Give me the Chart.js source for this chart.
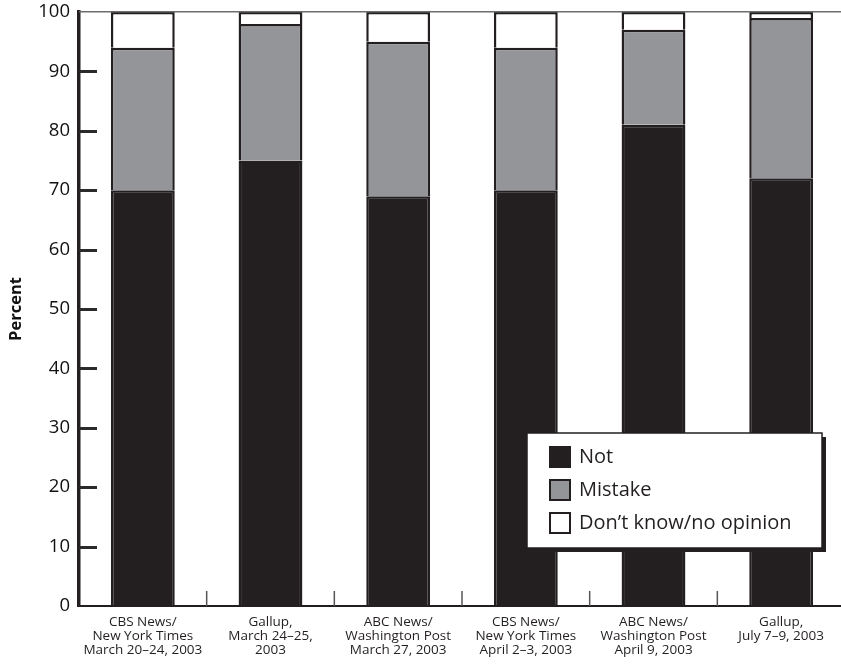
<!DOCTYPE html>
<html><head><meta charset="utf-8">
<script src="https://cdn.jsdelivr.net/npm/chart.js@4"></script>
<style>html,body{margin:0;padding:0;overflow:hidden;background:#fff}#wrap{width:845px;height:666px}</style>
</head><body><div id="wrap"><canvas id="c" width="845" height="666"></canvas></div>
<script>
const categories = [
  ["CBS News/", "New York Times", "March 20–24, 2003"],
  ["Gallup,", "March 24–25,", "2003"],
  ["ABC News/", "Washington Post", "March 27, 2003"],
  ["CBS News/", "New York Times", "April 2–3, 2003"],
  ["ABC News/", "Washington Post", "April 9, 2003"],
  ["Gallup,", "July 7–9, 2003"]
];
const notValues = [70, 75, 69, 70, 81, 72];
const mistakeValues = [24, 23, 26, 24, 16, 27];
const dontKnowValues = [6, 2, 5, 6, 3, 1];
const seriesNames = ["Not", "Mistake", "Don’t know/no opinion"];
const yTickValues = [0, 10, 20, 30, 40, 50, 60, 70, 80, 90, 100];
const axisTitle = "Percent";

const DARK = "#231f20", GRAY = "#939598";
const FONT = "'Open Sans', 'Noto Sans', sans-serif";

const decorPlugin = {
  id: "decor",
  afterDraw(chart) {
    const ctx = chart.ctx, ca = chart.chartArea;
    const ys = chart.scales.y, xs = chart.scales.x;
    ctx.save();
    const pTop = ys.getPixelForValue(100);
    ctx.fillStyle = "#6d6d6d";
    ctx.fillRect(ca.left, pTop - 1, chart.width - ca.left, 1.5);
    // inward y ticks
    ctx.fillStyle = "#2a2a2a";
    for (let k = 1; k < yTickValues.length - 1; k++) {
      const py = Math.round(ys.getPixelForValue(yTickValues[k]));
      ctx.fillRect(ca.left, py - 1, 18, 3);
    }
    // x ticks between categories
    ctx.fillStyle = "#555555";
    for (let i = 0; i < categories.length - 1; i++) {
      const px = (xs.getPixelForValue(i) + xs.getPixelForValue(i + 1)) / 2;
      ctx.fillRect(px - 0.75, ca.bottom - 15, 1.5, 15);
    }
    // legend box
    const bx = 527, by = 433, bw = 295, bh = 115;
    ctx.fillStyle = DARK;
    ctx.fillRect(bx + 4, by + 4, bw, bh);
    ctx.fillStyle = "#fff";
    ctx.fillRect(bx, by, bw, bh);
    ctx.strokeStyle = DARK; ctx.lineWidth = 1.5;
    ctx.strokeRect(bx, by, bw, bh);
    const ds = chart.data.datasets;
    ctx.font = "20px " + FONT;
    ctx.textBaseline = "middle"; ctx.textAlign = "left";
    ds.forEach((d, i) => {
      const cy = by + 24 + i * 33;
      ctx.fillStyle = d.backgroundColor;
      ctx.fillRect(549, cy - 11, 22, 22);
      ctx.strokeStyle = DARK; ctx.lineWidth = 2;
      ctx.strokeRect(550, cy - 10, 20, 20);
      ctx.fillStyle = DARK;
      ctx.fillText(d.label, 579, cy);
    });
    ctx.restore();
  }
};

new Chart(document.getElementById("c"), {
  type: "bar",
  data: {
    labels: categories,
    datasets: [
      { label: seriesNames[0], data: notValues, backgroundColor: DARK, borderColor: DARK, borderWidth: 2.5 },
      { label: seriesNames[1], data: mistakeValues, backgroundColor: GRAY, borderColor: DARK, borderWidth: 2.5 },
      { label: seriesNames[2], data: dontKnowValues, backgroundColor: "#ffffff", borderColor: DARK, borderWidth: 2.5 }
    ]
  },
  options: {
    responsive: false,
    devicePixelRatio: 1,
    animation: false,
    layout: { padding: { top: 12, left: 0, right: 0, bottom: 0 } },
    datasets: { bar: { barPercentage: 1, categoryPercentage: 0.5 } },
    plugins: { legend: { display: false }, tooltip: { enabled: false } },
    scales: {
      x: {
        stacked: true,
        grid: { display: false, drawTicks: false },
        border: { display: true, color: DARK, width: 2 },
        ticks: { color: DARK, font: { family: FONT, size: 13.5, lineHeight: 1.05 }, padding: 9, maxRotation: 0, autoSkip: false },
        afterFit(s) { s.height = 60; s.paddingLeft = 0; s.paddingRight = 0; }
      },
      y: {
        stacked: true,
        min: 0, max: 100,
        afterBuildTicks(s) { s.ticks = yTickValues.map(v => ({ value: v })); },
        grid: { display: false, drawTicks: false },
        border: { display: true, color: DARK, width: 3.5 },
        ticks: { color: "#111", font: { family: FONT, size: 18.5 }, padding: 9 },
        title: { display: true, text: axisTitle, color: "#111", font: { family: FONT, size: 16.5, weight: "bold" }, padding: { top: 6, bottom: 0 } },
        afterFit(s) { s.width = 79; s.paddingTop = 0; s.paddingBottom = 0; }
      }
    }
  },
  plugins: [decorPlugin]
});
</script>
</body></html>
